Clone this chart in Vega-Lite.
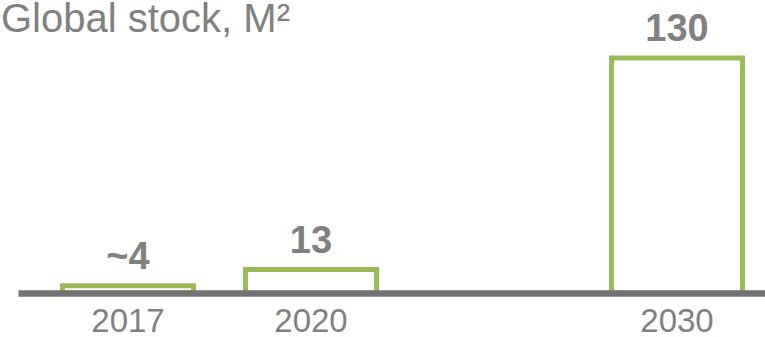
{
  "$schema": "https://vega.github.io/schema/vega-lite/v6.json",
  "width": 747,
  "height": 253,
  "autosize": {"type": "none"},
  "padding": {"left": 18, "top": 40, "right": 0, "bottom": 44},
  "background": "white",
  "config": {"view": {"stroke": null}},
  "title": {
    "text": "Global stock, M²",
    "anchor": "start",
    "frame": "group",
    "font": "Liberation Sans",
    "fontSize": 40,
    "fontWeight": "normal",
    "color": "#808080",
    "offset": 2,
    "dx": -17,
    "dy": 31
  },
  "data": {
    "values": [
      {"year": "2017", "value": 4, "label": "~4"},
      {"year": "2020", "value": 13, "label": "13"},
      {"year": "2030", "value": 130, "label": "130"}
    ]
  },
  "encoding": {
    "x": {
      "field": "year",
      "type": "nominal",
      "sort": null,
      "scale": {"domain": ["2017", "2020", "gap", "2030"], "paddingInner": 0.284, "paddingOuter": 0.183, "align": 0.664},
      "axis": {
        "title": null,
        "labelAngle": 0,
        "ticks": false,
        "domainColor": "#737373",
        "domainWidth": 6.5,
        "labelFont": "Liberation Sans",
        "labelFontSize": 33,
        "labelColor": "#808080",
        "labelPadding": 12,
        "labelExpr": "datum.value == 'gap' ? '' : datum.value",
        "zindex": 1
      }
    },
    "y": {
      "field": "value",
      "type": "quantitative",
      "scale": {"domain": [0, 140], "nice": false, "zero": true},
      "axis": null
    }
  },
  "layer": [
    {
      "mark": {"type": "bar", "fill": "white", "stroke": "#9bbb59", "strokeWidth": 5}
    },
    {
      "mark": {"type": "text", "font": "Liberation Sans", "fontWeight": "bold", "fontSize": 38, "color": "#808080", "baseline": "alphabetic", "dy": -17},
      "encoding": {"text": {"field": "label"}}
    }
  ]
}
